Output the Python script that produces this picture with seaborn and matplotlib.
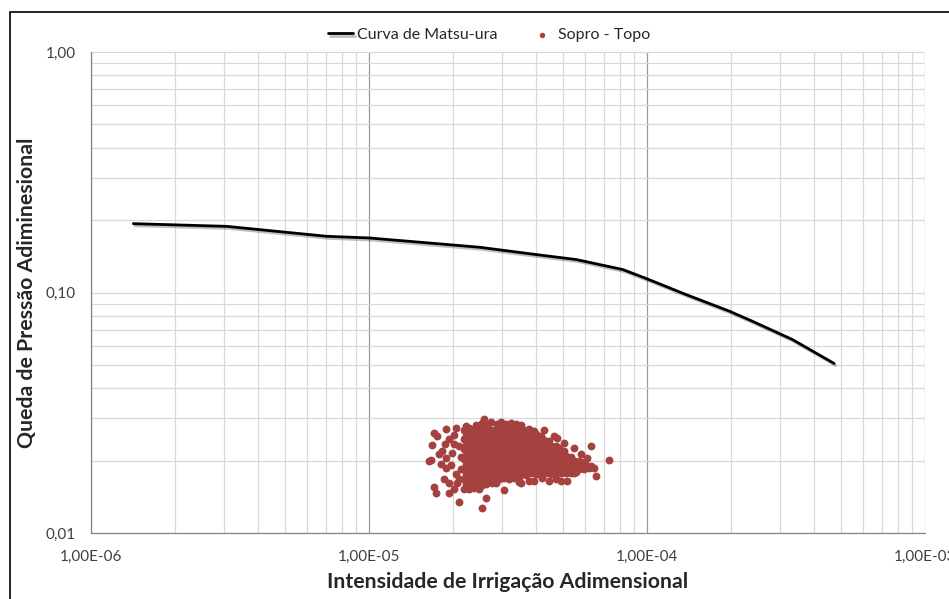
import numpy as np
import pandas as pd
import matplotlib
matplotlib.use("Agg")
import matplotlib.pyplot as plt
import matplotlib.patheffects as pe
from matplotlib.patches import Rectangle
from matplotlib.ticker import FixedLocator, FixedFormatter, LogLocator, NullFormatter
import seaborn as sns

# Curva de Matsu-ura (pressure drop vs. irrigation intensity)
matsuura_x = [1.42e-6, 3.07e-6, 7.03e-6, 1.00e-5, 2.50e-5, 3.99e-5, 5.56e-5,
              8.18e-5, 9.94e-5, 1.38e-4, 1.98e-4, 2.39e-4, 3.33e-4, 4.71e-4]
matsuura_y = [0.1933, 0.1884, 0.1713, 0.1686, 0.1542, 0.1438, 0.1371,
              0.1246, 0.1143, 0.0981, 0.0836, 0.0760, 0.0638, 0.0507]

# Sopro - Topo measurements, dense core (x in 1e-5, y in 1e-3)
sopro_core_x = [
    2.43, 2.54, 2.65, 2.75, 2.88, 2.99, 3.12, 3.25, 3.39, 3.52,
    2.20, 2.29, 2.38, 2.49, 2.59, 2.70, 2.81, 2.94, 3.05, 3.19, 3.32, 3.46, 3.60, 3.76, 3.91,
    2.24, 2.34, 2.43, 2.54, 2.64, 2.76, 2.87, 2.99, 3.12, 3.25, 3.39, 3.53, 3.68, 3.84, 4.00, 4.17,
    2.19, 2.29, 2.39, 2.48, 2.59, 2.70, 2.81, 2.93, 3.06, 3.18, 3.32, 3.46, 3.61, 3.76, 3.92, 4.08, 4.25, 4.43,
    2.24, 2.33, 2.44, 2.53, 2.65, 2.75, 2.87, 3.00, 3.12, 3.25, 3.39, 3.53, 3.68, 3.83, 4.00, 4.16, 4.34, 4.53, 4.72,
    2.19, 2.29, 2.38, 2.49, 2.59, 2.70, 2.81, 2.93, 3.06, 3.18, 3.32, 3.46, 3.61, 3.76, 3.92, 4.08, 4.25, 4.43, 4.62, 4.82, 5.02,
    2.24, 2.34, 2.43, 2.54, 2.64, 2.76, 2.87, 2.99, 3.12, 3.25, 3.39, 3.53, 3.68, 3.84, 4.00, 4.17, 4.34, 4.53, 4.72, 4.92, 5.12, 5.34,
    2.19, 2.29, 2.38, 2.49, 2.59, 2.70, 2.81, 2.93, 3.06, 3.18, 3.32, 3.46, 3.61, 3.76, 3.92, 4.08, 4.25, 4.43, 4.62, 4.82, 5.02, 5.23, 5.45, 5.68, 5.92,
    2.24, 2.34, 2.43, 2.54, 2.64, 2.76, 2.87, 2.99, 3.12, 3.25, 3.39, 3.53, 3.68, 3.84, 4.00, 4.17, 4.34, 4.53, 4.72, 4.92, 5.12, 5.34, 5.57, 5.80, 6.05, 6.30,
    2.19, 2.29, 2.38, 2.49, 2.59, 2.70, 2.81, 2.93, 3.06, 3.18, 3.32, 3.46, 3.61, 3.76, 3.92, 4.08, 4.25, 4.43, 4.62, 4.82, 5.02, 5.23, 5.45, 5.68, 5.92, 6.17, 6.43,
    2.24, 2.34, 2.43, 2.54, 2.64, 2.76, 2.87, 2.99, 3.12, 3.25, 3.39, 3.53, 3.68, 3.84, 4.00, 4.17, 4.34, 4.53, 4.72, 4.92, 5.12, 5.34, 5.57,
    2.19, 2.29, 2.38, 2.49, 2.59, 2.70, 2.81, 2.93, 3.06, 3.18, 3.32, 3.46,
    2.24, 2.34, 2.43, 2.54, 2.64, 2.76, 2.87,
    2.19, 2.29, 2.38, 2.49,
]
sopro_core_y = [
    28.1, 28.6, 28.2, 28.9, 28.4, 29.0, 28.3, 28.8, 28.5, 28.0,
    26.8, 27.2, 27.0, 26.9, 27.3, 27.1, 26.8, 27.0, 27.2, 26.9, 27.1, 27.3, 26.8, 27.0, 26.6,
    25.6, 25.9, 25.7, 25.8, 25.5, 25.9, 25.7, 25.6, 25.8, 25.9, 25.7, 25.6, 25.8, 25.5, 25.7, 25.4,
    24.6, 24.4, 24.7, 24.5, 24.6, 24.4, 24.6, 24.5, 24.7, 24.5, 24.4, 24.6, 24.5, 24.7, 24.4, 24.5, 24.3, 24.2,
    23.3, 23.5, 23.4, 23.3, 23.5, 23.4, 23.2, 23.4, 23.5, 23.3, 23.4, 23.5, 23.3, 23.4, 23.2, 23.4, 23.3, 23.1, 22.9,
    22.4, 22.2, 22.3, 22.4, 22.2, 22.3, 22.4, 22.3, 22.2, 22.4, 22.3, 22.2, 22.4, 22.3, 22.2, 22.3, 22.4, 22.2, 22.3, 22.1, 21.9,
    21.2, 21.4, 21.3, 21.2, 21.3, 21.4, 21.2, 21.3, 21.4, 21.2, 21.3, 21.2, 21.4, 21.3, 21.2, 21.3, 21.4, 21.2, 21.3, 21.1, 21.0, 20.8,
    20.3, 20.2, 20.4, 20.3, 20.2, 20.3, 20.4, 20.2, 20.3, 20.4, 20.2, 20.3, 20.3, 20.2, 20.4, 20.3, 20.2, 20.3, 20.4, 20.2, 20.3, 20.1, 20.0, 19.9, 19.8,
    19.3, 19.4, 19.2, 19.3, 19.4, 19.3, 19.2, 19.4, 19.3, 19.2, 19.3, 19.4, 19.3, 19.2, 19.3, 19.4, 19.3, 19.2, 19.3, 19.4, 19.3, 19.2, 19.3, 19.2, 19.1, 19.0,
    18.4, 18.5, 18.3, 18.4, 18.5, 18.4, 18.3, 18.5, 18.4, 18.3, 18.4, 18.5, 18.4, 18.3, 18.4, 18.5, 18.4, 18.3, 18.4, 18.5, 18.4, 18.3, 18.5, 18.4, 18.5, 18.6, 18.7,
    17.6, 17.5, 17.7, 17.6, 17.5, 17.6, 17.7, 17.5, 17.6, 17.7, 17.5, 17.6, 17.5, 17.7, 17.6, 17.5, 17.7, 17.6, 17.7, 17.8, 17.7, 17.8, 17.9,
    16.8, 16.7, 16.9, 16.7, 16.8, 16.6, 16.8, 16.7, 16.9, 16.8, 16.9, 17.0,
    16.0, 15.9, 16.0, 15.8, 16.0, 16.1, 16.2,
    15.3, 15.2, 15.4, 15.3,
]

# Sopro - Topo measurements, scattered points around the core (x in 1e-5, y in 1e-3)
sopro_outer_x = [2.59, 1.74, 1.94, 2.11, 2.55, 2.63, 3.06, 3.46, 1.67, 1.69,
                 1.71, 1.76, 1.90, 2.05, 2.23, 1.78, 1.82, 1.90, 1.86, 1.94,
                 1.71, 1.83, 1.90, 2.02, 1.99, 2.05, 2.07, 3.51, 3.76, 3.92,
                 4.18, 4.43, 4.70, 4.90, 5.14, 5.45, 6.27, 7.28, 6.54, 4.73,
                 4.82, 1.94, 2.02, 2.11, 2.15, 2.02, 2.11, 1.88, 1.97, 2.15,
                 4.25, 4.62, 5.02, 5.45, 5.78, 6.07, 1.64]
sopro_outer_y = [29.7, 14.65, 14.65, 13.5, 12.7, 14.0, 15.1, 16.3, 20.1, 23.2,
                 26.0, 25.2, 27.0, 27.3, 27.8, 21.3, 19.3, 18.6, 16.75, 16.1,
                 15.6, 21.9, 20.5, 23.4, 21.5, 17.6, 16.1, 16.1, 16.4, 16.4,
                 16.9, 16.4, 16.75, 16.4, 16.4, 17.7, 23.0, 20.1, 17.2, 24.8,
                 22.5, 24.55, 25.5, 23.0, 18.4, 15.2, 16.75, 23.4, 19.1, 20.7,
                 26.8, 25.3, 23.6, 22.6, 21.3, 20.6, 20.0]

x_ticks = [1e-6, 1e-5, 1e-4, 1e-3]
x_tick_labels = ["1,00E-06", "1,00E-05", "1,00E-04", "1,00E-03"]
y_ticks = [0.01, 0.1, 1.0]
y_tick_labels = ["0,01", "0,10", "1,00"]

curve_df = pd.DataFrame({"x": matsuura_x, "y": matsuura_y,
                         "serie": "Curva de Matsu-ura"})
sopro_df = pd.DataFrame({
    "x": np.array(sopro_core_x + sopro_outer_x) * 1e-5,
    "y": np.array(sopro_core_y + sopro_outer_y) * 1e-3,
    "serie": "Sopro - Topo",
})

sns.set_style("white")
plt.rcParams["font.family"] = ["Lato", "DejaVu Sans"]

fig = plt.figure(figsize=(9.49, 5.99), dpi=100)
fig.patch.set_facecolor("white")
ax = fig.add_axes([91 / 949, 1 - 533 / 599, (925 - 91) / 949, (533 - 52) / 599])

ax.set_xscale("log")
ax.set_yscale("log")
ax.set_xlim(1e-6, 1e-3)
ax.set_ylim(0.01, 1.0)

# grid: light minor lines, darker vertical decade lines
ax.xaxis.set_minor_locator(LogLocator(base=10, subs=np.arange(2, 10)))
ax.yaxis.set_minor_locator(LogLocator(base=10, subs=np.arange(2, 10)))
ax.grid(which="minor", axis="both", color="#d9d9d9", linewidth=0.9)
ax.grid(which="major", axis="y", color="#d9d9d9", linewidth=0.9)
ax.grid(which="major", axis="x", color="#9a9a9a", linewidth=0.9)
ax.set_axisbelow(True)

red = "#A5413E"
sns.scatterplot(data=sopro_df, x="x", y="y", ax=ax, color=red, s=32,
                linewidth=0, label="Sopro - Topo", zorder=3)
sns.lineplot(data=curve_df, x="x", y="y", ax=ax, color="black", linewidth=2.0,
             label="Curva de Matsu-ura", zorder=4, sort=False)
curve_line = ax.lines[-1]
curve_line.set_path_effects([
    pe.SimpleLineShadow(offset=(1.2, -1.5), shadow_color="#000000", alpha=0.25),
    pe.Normal(),
])

ax.xaxis.set_major_locator(FixedLocator(x_ticks))
ax.xaxis.set_major_formatter(FixedFormatter(x_tick_labels))
ax.xaxis.set_minor_formatter(NullFormatter())
ax.yaxis.set_major_locator(FixedLocator(y_ticks))
ax.yaxis.set_major_formatter(FixedFormatter(y_tick_labels))
ax.yaxis.set_minor_formatter(NullFormatter())

ax.tick_params(axis="both", which="major", direction="out", length=5, width=0.9,
               color="#868686", labelsize=11, labelcolor="#404040")
ax.tick_params(axis="x", which="major", pad=7)
ax.tick_params(axis="y", which="major", pad=6)
ax.tick_params(which="minor", length=0)

for side in ("top", "right"):
    ax.spines[side].set_visible(False)
for side in ("left", "bottom"):
    ax.spines[side].set_color("#868686")
    ax.spines[side].set_linewidth(0.9)

ax.set_xlabel("Intensidade de Irrigação Adimensional", fontsize=15.3,
              fontweight="bold", color="#262626", labelpad=6)
ax.set_ylabel("Queda de Pressão Adiminesional", fontsize=15.3,
              fontweight="bold", color="#262626", labelpad=6)

handles, labels = ax.get_legend_handles_labels()
order = [labels.index("Curva de Matsu-ura"), labels.index("Sopro - Topo")]
leg = fig.legend([handles[i] for i in order], [labels[i] for i in order],
                 loc="center", bbox_to_anchor=(489 / 949, 1 - 35 / 599),
                 ncol=2, frameon=False, fontsize=11.5, handlelength=1.6,
                 handletextpad=0.2, columnspacing=2.0, markerscale=0.7)
for t in leg.get_texts():
    t.set_color("#262626")
if ax.get_legend() is not None:
    ax.get_legend().remove()

# chart-area border
fig.patches.append(Rectangle((10 / 949, -0.1), 1.2, 1 - 12 / 599 + 0.1,
                             transform=fig.transFigure, fill=False,
                             edgecolor="black", linewidth=1.2))

fig.savefig("out.png", dpi=100)
